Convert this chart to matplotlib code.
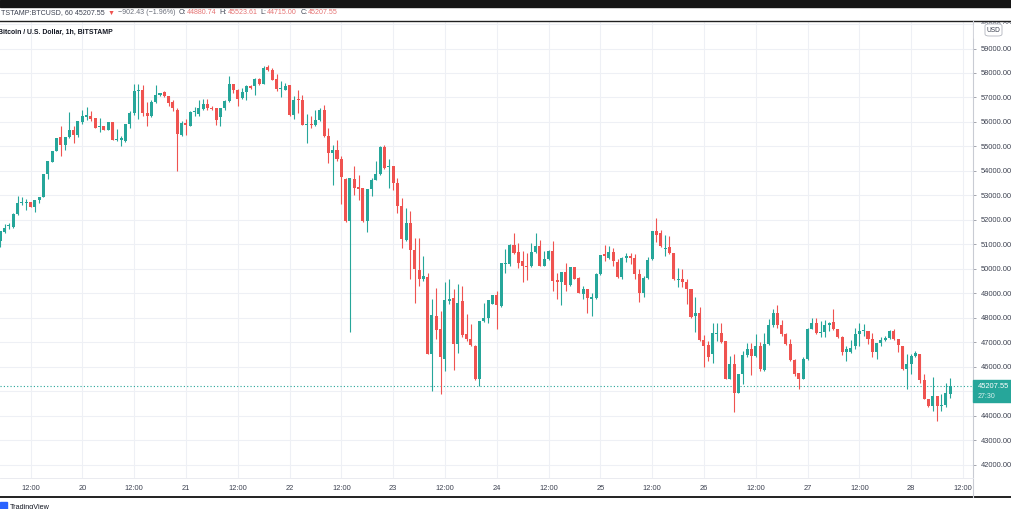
import numpy as np
import pandas as pd
import matplotlib
matplotlib.use('Agg')
import matplotlib.pyplot as plt
from matplotlib.patches import Rectangle, FancyBboxPatch
from matplotlib.lines import Line2D

# ---------------- data ----------------
start_time = '2021-02-19 05:00'
opens = [51130, 51500, 51740, 51700, 52220, 52690, 52700, 52720, 52520, 52830,
         52930, 53880, 54370, 54800, 55390, 55050, 55390, 55660, 55450, 56000,
         56220, 56230, 56160, 55800, 55850, 55660, 55990, 55270, 55280, 55240,
         55920, 56370, 57280, 57320, 56370, 56230, 56800, 57100, 57210, 57050,
         56800, 56500, 55480, 55960, 55850, 56390, 56340, 56530, 56750, 56570,
         56570, 56200, 56570, 56860, 57560, 57320, 56980, 57210, 57450, 57450,
         57750, 57560, 58240, 58130, 57770, 57360, 57320, 57520, 56300, 56920,
         56910, 55860, 55890, 55860, 56070, 56500, 55440, 54735, 54870, 54500,
         53670, 51950, 53650, 53330, 53300, 51950, 53265, 53646, 53890, 54980,
         54150, 54190, 53510, 52560, 51170, 51850, 50760, 49930, 49590, 49660,
         46530, 48070, 47550, 46330, 48680, 48820, 46940, 48680, 47320, 47120,
         46840, 45486, 47866, 48000, 48570, 48910, 48476, 50200, 50200, 50965,
         50680, 50312, 50108, 50108, 50693, 50924, 50108, 50380, 50720, 49536,
         49455, 49863, 49320, 50080, 49632, 48950, 49156, 48776, 48816, 49768,
         50584, 50448, 50693, 50285, 49660, 50448, 50516, 50448, 49768, 49020,
         49632, 50380, 51536, 51468, 50788, 50883, 50652, 49536, 49564, 49455,
         49156, 48068, 48177, 47075, 46872, 46504, 47320, 47361, 47048, 45511,
         46095, 44939, 45687, 46462, 46734, 46435, 46843, 45864, 46911, 47686,
         48176, 47686, 47346, 46911, 46258, 45755, 45510, 46299, 47550, 47768,
         47360, 47428, 47686, 47822, 47550, 47224, 46598, 46612, 46843, 47319,
         47440, 47455, 47115, 46612, 46952, 47088, 47183, 47455, 47115, 46843,
         45891, 46122, 46435, 46503, 45442, 44694, 44395, 44803, 44395, 44422,
         44880.74]
highs = [51550, 51810, 51880, 52260, 52970, 52940, 52860, 52740, 52830, 52930,
         53890, 54400, 54800, 55340, 55820, 55390, 56400, 55820, 56030, 56500,
         56610, 56430, 56160, 56160, 55850, 55990, 55990, 55720, 55410, 55920,
         56430, 57550, 57550, 57520, 56820, 56910, 57520, 57180, 57260, 57050,
         56910, 56570, 56030, 56100, 56430, 56600, 56910, 56940, 56940, 56640,
         56570, 56570, 56910, 57860, 57560, 57350, 57390, 57520, 57520, 57800,
         57800, 58270, 58340, 58200, 57970, 57660, 57590, 57520, 57050, 57320,
         57120, 56320, 56230, 56500, 56570, 56700, 55760, 55070, 55280, 54600,
         53710, 53715, 54190, 53850, 53300, 53265, 53714, 54394, 55033, 55074,
         54490, 54190, 53714, 52898, 52490, 52354, 51266, 51266, 50518, 49838,
         48777, 49226, 48274, 49457, 49593, 49158, 49362, 49294, 48138, 47730,
         46874, 47866, 48587, 48725, 48910, 49088, 50244, 50815, 50992, 51468,
         51060, 50720, 50652, 51060, 51468, 51169, 50720, 50747, 51128, 49836,
         49863, 50244, 50080, 50080, 49673, 49292, 49156, 48993, 49836, 50543,
         50951, 50924, 50856, 50380, 50475, 50652, 50652, 50611, 49972, 49700,
         50489, 51536, 52080, 51604, 51400, 51359, 50652, 50040, 50000, 49564,
         49156, 48857, 48449, 47279, 47048, 47796, 47796, 47796, 47048, 46435,
         46503, 45687, 46639, 46979, 46952, 47319, 47006, 47360, 47931, 48339,
         48502, 47904, 47387, 47115, 46299, 45755, 46408, 47591, 47999, 47999,
         47863, 47904, 47822, 48366, 47550, 47251, 46843, 47088, 47591, 47795,
         47727, 47455, 47387, 46979, 47224, 47251, 47496, 47550, 47142, 46843,
         46503, 46503, 46639, 46530, 45687, 44694, 45591, 44803, 44871, 45320,
         45523.61]
lows = [50900, 51470, 51610, 51670, 52190, 52590, 52420, 52520, 52310, 52670,
        52930, 53670, 54350, 54800, 54600, 54870, 55350, 55140, 55390, 55930,
        56090, 56030, 55755, 55580, 55690, 55660, 55250, 55230, 55030, 55200,
        55750, 56300, 56100, 56230, 55820, 56190, 56780, 57050, 57020, 56640,
        56430, 54010, 55440, 55480, 55820, 56230, 56230, 56500, 56500, 56500,
        55890, 55820, 56500, 56800, 57180, 56640, 56940, 56880, 57350, 57120,
        57520, 57560, 58070, 57700, 57250, 57020, 57320, 56260, 56100, 56370,
        55860, 55140, 55750, 55820, 56030, 55390, 54330, 53440, 54400, 52630,
        51910, 47420, 53030, 52830, 51910, 51500, 52966, 53619, 53850, 54095,
        53306, 53238, 52286, 50858, 51130, 49566, 48587, 49294, 49498, 46506,
        45010, 47118, 44874, 45826, 48546, 45853, 46574, 47227, 47050, 46846,
        45459, 45214, 47825, 47798, 48544, 47551, 48449, 49809, 50108, 50584,
        50040, 49455, 49537, 50067, 50652, 50108, 50108, 50353, 49088, 48748,
        48503, 49088, 49292, 49564, 48992, 48775, 48177, 48068, 48775, 49741,
        50312, 50380, 50108, 49632, 49591, 50285, 50176, 49564, 48639, 48857,
        49591, 50353, 51101, 50897, 50516, 50611, 49537, 49265, 49265, 48544,
        48000, 47415, 47048, 46000, 46232, 46137, 47048, 46980, 45511, 45483,
        44150, 44912, 45279, 46408, 45646, 46408, 45823, 45823, 46870, 47632,
        47591, 47251, 46884, 46217, 45619, 45075, 45483, 46272, 47523, 47319,
        47224, 47224, 47455, 47496, 47183, 46462, 46231, 46571, 46707, 46843,
        47251, 46911, 46408, 46326, 46843, 47047, 47142, 47088, 46612, 45864,
        45075, 45687, 46408, 45347, 44667, 44368, 44191, 43783, 44191, 44368,
        44715.00]
closes = [51530, 51675, 51760, 52220, 52670, 52710, 52710, 52520, 52830, 52930,
          53890, 54400, 54800, 55340, 55050, 55390, 55660, 55470, 56030, 56230,
          56240, 56100, 55755, 55850, 55690, 55990, 55250, 55290, 55290, 55920,
          56370, 57280, 57320, 56370, 56230, 56800, 57110, 57180, 57050, 56775,
          56570, 55520, 55960, 55880, 56390, 56410, 56570, 56750, 56570, 56530,
          56070, 56570, 56870, 57560, 57320, 56940, 57210, 57450, 57390, 57770,
          57560, 58200, 58110, 57730, 57350, 57380, 57480, 56300, 56910, 56900,
          55890, 55890, 55860, 56070, 56500, 55410, 54735, 54870, 54490, 53750,
          51950, 53715, 53300, 53240, 51950, 53265, 53646, 53890, 54980, 54122,
          54190, 53510, 52560, 51200, 51850, 50760, 49970, 49590, 49700, 46530,
          48100, 47500, 46400, 48710, 48780, 46940, 48610, 47280, 47120, 46870,
          45486, 47866, 48000, 48725, 48910, 48503, 50217, 50230, 50965, 50652,
          50244, 50108, 50067, 50693, 50924, 50108, 50380, 50720, 49496, 49455,
          49863, 49320, 50080, 49592, 49020, 49156, 48789, 48857, 49768, 50543,
          50516, 50693, 50312, 49660, 50448, 50516, 50448, 49768, 49020, 49632,
          50353, 51536, 51373, 50924, 50856, 50652, 49564, 49591, 49455, 49156,
          48027, 48204, 47089, 46844, 46395, 47388, 47388, 47007, 45511, 46095,
          44912, 45687, 46462, 46734, 46435, 46843, 45891, 46911, 47686, 48176,
          47686, 47319, 46911, 46258, 45687, 45510, 46299, 47550, 47768, 47360,
          47428, 47686, 47795, 47550, 47224, 46598, 46707, 46775, 47319, 47455,
          47455, 47115, 46612, 46952, 47088, 47183, 47455, 47142, 46870, 45891,
          46122, 46435, 46571, 45456, 44694, 44395, 44803, 44395, 44422, 44912,
          45207.55]

symbol_text = 'TSTAMP:BTCUSD, 60 45207.55'
change_text = '\u2212902.43 (\u22121.96%)'
ohlc_labels = ['O:', 'H:', 'L:', 'C:']
ohlc_values = ['44880.74', '45523.61', '44715.00', '45207.55']
title_text = 'Bitcoin / U.S. Dollar, 1h, BITSTAMP'
last_price = 45207.55
countdown = '27:30'
price_ticks = list(range(42000, 60001, 1000))
hidden_price_labels = [45000]   # covered by the last-price tag in the reference
tick_times = pd.date_range('2021-02-19 12:00', '2021-02-28 12:00', freq='12h')

# ---------------- style ----------------
W, H = 1011, 509
UP, DOWN = '#26a69a', '#ef5350'
TXT = '#3c4150'
FONT = ['Liberation Sans', 'DejaVu Sans']
plt.rcParams['font.family'] = FONT

fig = plt.figure(figsize=(W / 100, H / 100), dpi=100)
fig.patch.set_facecolor('white')


def fx(x):
    return x / W


def fy(y):
    return 1 - y / H


plot_left, plot_right, plot_top, plot_bottom = 0, 973, 22, 478
ax = fig.add_axes([fx(plot_left), fy(plot_bottom), fx(plot_right - plot_left),
                   (plot_bottom - plot_top) / H])

origin = pd.Timestamp('2021-02-19 00:00')
times = pd.date_range(start_time, periods=len(opens), freq='h')
hrs = ((times - origin) / pd.Timedelta('1h')).to_numpy()

o = np.array(opens, float)
c = np.array(closes, float)
hi = np.array(highs, float)
lo = np.array(lows, float)
cols = np.where(c >= o, UP, DOWN)

ax.vlines(hrs, lo, hi, colors=cols, lw=0.8, zorder=3)
body_bottom = np.minimum(o, c)
body_h = np.maximum(np.abs(c - o), 45)
ax.bar(hrs, body_h, bottom=body_bottom, width=0.7, color=cols, lw=0, zorder=4)

# scales (pixel calibrated: 12:00 on 19th at x=30.5, 4.317 px per hour)
px_per_h = 4.317
x0_h = 12 - (30.5 - plot_left) / px_per_h
x1_h = 12 + (plot_right - 30.5) / px_per_h
ax.set_xlim(x0_h, x1_h)
px_per_k = 24.47
y_top = 58000 + (73.0 - plot_top) / px_per_k * 1000
y_bot = 58000 - (plot_bottom - 73.0) / px_per_k * 1000
ax.set_ylim(y_bot, y_top)

ax.axhline(last_price, color=UP, lw=0.8, ls=(0, (1, 2)), zorder=2)

tick_h = ((tick_times - origin) / pd.Timedelta('1h')).to_numpy()
tick_lbls = ['12:00' if t.hour == 12 else str(t.day) for t in tick_times]
ax.set_xticks(tick_h)
ax.set_xticklabels(tick_lbls)
ax.set_yticks(price_ticks)
ax.set_yticklabels(['' if v in hidden_price_labels else f'{v:.2f}'
                    for v in price_ticks])
ax.yaxis.tick_right()
ax.tick_params(axis='y', which='both', length=2.3, width=0.6, color='#9598a1',
               pad=3.2, labelsize=5.4, labelcolor=TXT)
ax.tick_params(axis='x', which='both', length=0, pad=5.0, labelsize=5.4,
               labelcolor=TXT)
ax.grid(True, color='#eef0f5', lw=0.8, zorder=0)
ax.set_axisbelow(True)
for s in ax.spines.values():
    s.set_visible(False)

# ---------------- chrome ----------------
fig.patches.append(Rectangle((0, fy(7)), 1, 7 / H, transform=fig.transFigure,
                             color='#151515', zorder=10))
fig.patches.append(Rectangle((0, fy(21)), 1, 14 / H, transform=fig.transFigure,
                             color='white', zorder=9))
fig.lines.append(Line2D([0, 1], [fy(21), fy(21)], transform=fig.transFigure,
                        color='#202020', lw=1.0, zorder=11))
fig.lines.append(Line2D([0, 1], [fy(497), fy(497)], transform=fig.transFigure,
                        color='#202020', lw=1.4, zorder=11))
fig.lines.append(Line2D([fx(973), fx(973)], [fy(21), fy(497)],
                        transform=fig.transFigure, color='#c9ccd4', lw=0.8,
                        zorder=11))
fig.lines.append(Line2D([0, fx(973)], [fy(478), fy(478)],
                        transform=fig.transFigure, color='#e6e8ee', lw=0.6,
                        zorder=11))

# header text built piece by piece
renderer = fig.canvas.get_renderer()
pieces = [(symbol_text, TXT), ('\u25bc', DOWN), (change_text, '#6b6f7a')]
for lab, val in zip(ohlc_labels, ohlc_values):
    pieces.append((lab, TXT))
    pieces.append((val, '#e57373'))
xcur = 1
for txt, col in pieces:
    t = fig.text(fx(xcur), fy(13), txt, color=col, fontsize=5.15,
                 va='center', ha='left', zorder=12, family=FONT)
    bb = t.get_window_extent(renderer=renderer)
    gap = 0.5 if txt in ohlc_labels else 3.2
    xcur = bb.x1 + gap

fig.text(fx(-1.5), fy(32), title_text, color='#131722', fontsize=4.95,
         fontweight='bold', va='center', ha='left', zorder=12, family=FONT)

# USD box (covers lower half of the top price label)
fig.patches.append(Rectangle((fx(974), fy(38)), 37 / W, 14 / H,
                             transform=fig.transFigure, color='white',
                             zorder=11))
fig.patches.append(FancyBboxPatch((fx(985), fy(36)), 17 / W, 12 / H,
                                  boxstyle='round,pad=0,rounding_size=0.004',
                                  transform=fig.transFigure, facecolor='white',
                                  edgecolor='#b2b5be', lw=0.6, zorder=12))
fig.text(fx(993.5), fy(30.5), 'USD', color=TXT, fontsize=4.8, ha='center',
         va='center', zorder=13)

# last price tag
fig.patches.append(Rectangle((fx(973), fy(402)), 38 / W, 22 / H,
                             transform=fig.transFigure, color=UP, zorder=12))
fig.text(fx(978), fy(386.5), f'{last_price:.2f}', color='white', fontsize=5.4,
         ha='left', va='center', zorder=13)
fig.text(fx(978), fy(396.5), countdown, color='#d7f0ed', fontsize=5.0,
         ha='left', va='center', zorder=13)

# TradingView watermark (cut by bottom edge)
fig.patches.append(Rectangle((fx(0), fy(509)), 7 / W, 7 / H,
                             transform=fig.transFigure, color='#2962ff',
                             zorder=12))
fig.text(fx(10), fy(507.5), 'TradingView', color='#131722', fontsize=5.2,
         ha='left', va='center', zorder=13)

fig.savefig('out.png', dpi=100)
